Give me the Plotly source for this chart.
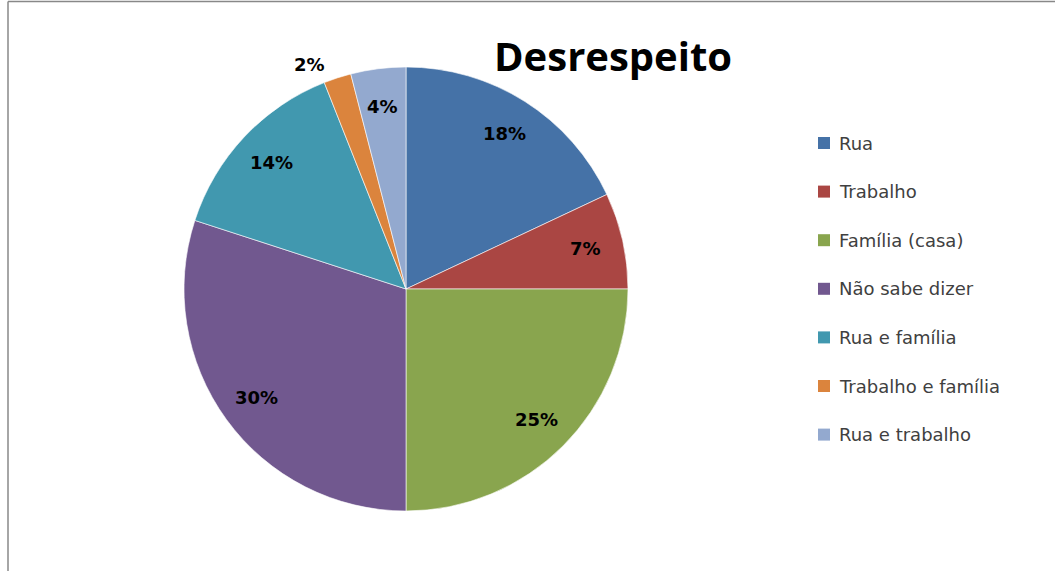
import math
import plotly.graph_objects as go

categories = ["Rua", "Trabalho", "Família (casa)", "Não sabe dizer",
              "Rua e família", "Trabalho e família", "Rua e trabalho"]
values = [18, 7, 25, 30, 14, 2, 4]
colors = ["#4572A7", "#AA4643", "#89A54E", "#71588F", "#4198AF", "#DB843D", "#93A9CF"]
title_text = "Desrespeito"

W, H = 1055, 571
cx, cy, r = 406, 289, 222

fig = go.Figure(go.Pie(
    labels=categories, values=values, sort=False, direction="clockwise",
    rotation=0, marker=dict(colors=colors, line=dict(color="white", width=0.6)),
    textinfo="none", showlegend=False,
    domain=dict(x=[(cx - r) / W, (cx + r) / W], y=[(H - cy - r) / H, (H - cy + r) / H]),
    hoverinfo="label+percent",
))

annotations = [dict(text="<b>" + title_text + "</b>", x=613 / W, y=1 - 56 / H,
                    xref="paper", yref="paper", showarrow=False,
                    font=dict(family="Open Sans", size=40, color="black"),
                    xanchor="center", yanchor="middle")]

# data labels placed at each slice's mid-angle (derived from the values)
total = sum(values)
cum = 0
for v in values:
    mid = (cum + v / 2) / total * 2 * math.pi
    cum += v
    inside = v / total >= 0.03
    k = 0.83 if inside else 1.1
    ang = mid if inside else mid - 0.09
    px = cx + k * r * math.sin(ang)
    py = cy - k * r * math.cos(ang)
    annotations.append(dict(text=f"{round(100 * v / total)}%", x=px / W, y=1 - py / H,
                            xref="paper", yref="paper", showarrow=False,
                            xanchor="center", yanchor="middle",
                            font=dict(family="DejaVu Sans", size=18, color="black", weight="bold")))

# legend drawn from the category list
shapes = []
y0, dy = 143, 48.6
for i, (cat, col) in enumerate(zip(categories, colors)):
    yy = y0 + i * dy
    shapes.append(dict(type="rect", xref="paper", yref="paper",
                       x0=818 / W, x1=830 / W, y0=1 - (yy - 6) / H, y1=1 - (yy + 6) / H,
                       fillcolor=col, line=dict(width=0)))
    annotations.append(dict(text=cat, x=837 / W, y=1 - yy / H, xref="paper", yref="paper",
                            showarrow=False, xanchor="left", yanchor="middle",
                            font=dict(family="DejaVu Sans", size=18, color="#404040")))

# chart frame (top and left edges visible)
shapes.append(dict(type="line", xref="paper", yref="paper", x0=8 / W, x1=1, y0=1 - 1.5 / H, y1=1 - 1.5 / H,
                   line=dict(color="#888888", width=1.5)))
shapes.append(dict(type="line", xref="paper", yref="paper", x0=8 / W, x1=8 / W, y0=0, y1=1 - 1.5 / H,
                   line=dict(color="#888888", width=1.5)))

fig.update_layout(width=W, height=H, margin=dict(l=0, r=0, t=0, b=0),
                  paper_bgcolor="white", plot_bgcolor="white",
                  annotations=annotations, shapes=shapes)
fig.write_html("out.html", config={"displayModeBar": False},
               post_script="document.body.style.margin='0';")
